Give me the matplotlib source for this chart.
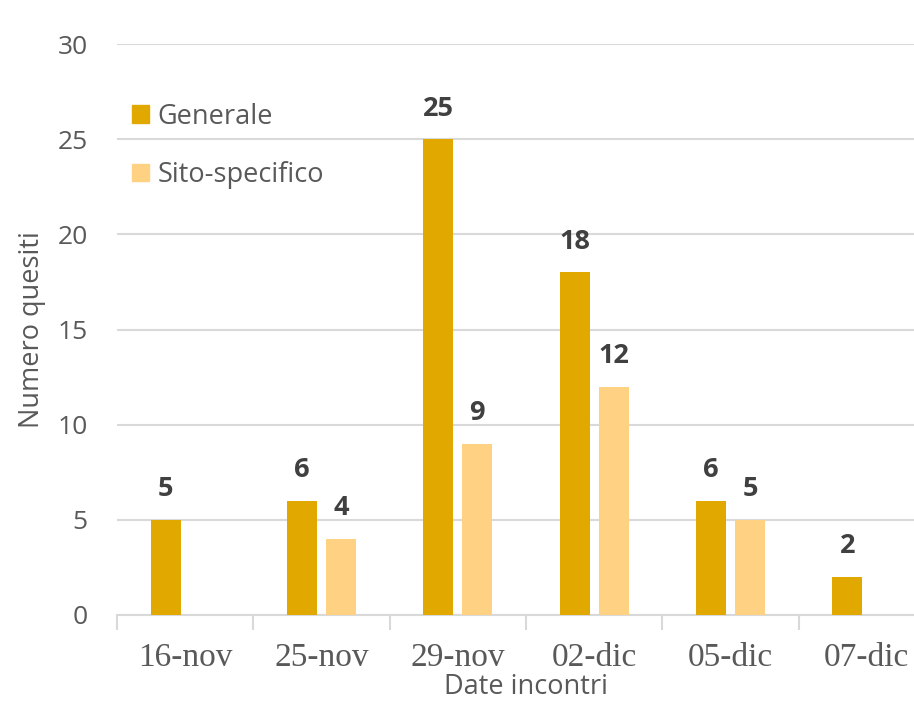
import matplotlib
matplotlib.use("Agg")
import matplotlib.pyplot as plt
from matplotlib.patches import Patch
import numpy as np

categories = ["16-nov", "25-nov", "29-nov", "02-dic", "05-dic", "07-dic"]
generale = [5, 6, 25, 18, 6, 2]
sito_specifico = [None, 4, 9, 12, 5, None]
series_names = ["Generale", "Sito-specifico"]
y_ticks = [0, 5, 10, 15, 20, 25, 30]

c_gen = "#E1A900"
c_sito = "#FFD183"
txt = "#595959"
grid_c = "#D9D9D9"

fig = plt.figure(figsize=(9.14, 7.23), dpi=100)
W, H = 914, 723
left, right, bottom, top = 117, 935, 615, 44
ax = fig.add_axes([left / W, 1 - bottom / H, (right - left) / W, (bottom - top) / H])

x = np.arange(len(categories))
bw = 0.22
off = 0.143

for i, v in enumerate(generale):
    if v is None:
        continue
    xi = x[i] - off
    ax.bar(xi, v, width=bw, color=c_gen, zorder=3)
    ax.annotate(str(v), (xi, v), xytext=(0, 22), textcoords="offset points",
                ha="center", va="center", fontsize=19.5, fontweight="bold",
                color="#404040", family="Open Sans")
for i, v in enumerate(sito_specifico):
    if v is None:
        continue
    xi = x[i] + off
    ax.bar(xi, v, width=bw, color=c_sito, zorder=3)
    ax.annotate(str(v), (xi, v), xytext=(0, 22), textcoords="offset points",
                ha="center", va="center", fontsize=19.5, fontweight="bold",
                color="#404040", family="Open Sans")

ax.set_xlim(-0.5, len(categories) - 0.5)
ax.set_ylim(0, 30)
ax.set_yticks(y_ticks)
ax.set_yticklabels([str(t) for t in y_ticks], family="Open Sans", fontsize=19, color=txt)
ax.tick_params(axis="y", length=0, pad=21)
ax.yaxis.grid(True, color=grid_c, linewidth=1.5, zorder=0)
ax.set_axisbelow(True)

ax.set_xticks(x)
ax.set_xticklabels(categories, family="Liberation Serif", fontsize=24, color=txt)
ax.tick_params(axis="x", which="major", length=0, pad=20)
ax.set_xticks(np.arange(len(categories) + 1) - 0.5, minor=True)
ax.tick_params(axis="x", which="minor", length=11, width=1.5, color=grid_c)

for s in ["top", "right", "left"]:
    ax.spines[s].set_visible(False)
ax.spines["bottom"].set_color(grid_c)
ax.spines["bottom"].set_linewidth(1.5)

ax.set_xlabel("Date incontri", family="Open Sans", fontsize=19.5, color=txt, labelpad=0)
ax.set_ylabel("Numero quesiti", family="Open Sans", fontsize=19.5, color=txt, labelpad=8)

handles = [Patch(color=c_gen), Patch(color=c_sito)]
leg = ax.legend(handles, series_names, loc="upper left", bbox_to_anchor=(-0.011, 0.940),
                frameon=False, prop={"family": "Open Sans", "size": 19.5},
                handlelength=0.62, handleheight=0.62, handletextpad=0.3,
                labelspacing=1.13, borderaxespad=0.5)
for t in leg.get_texts():
    t.set_color(txt)

fig.savefig("out.png", dpi=100)
